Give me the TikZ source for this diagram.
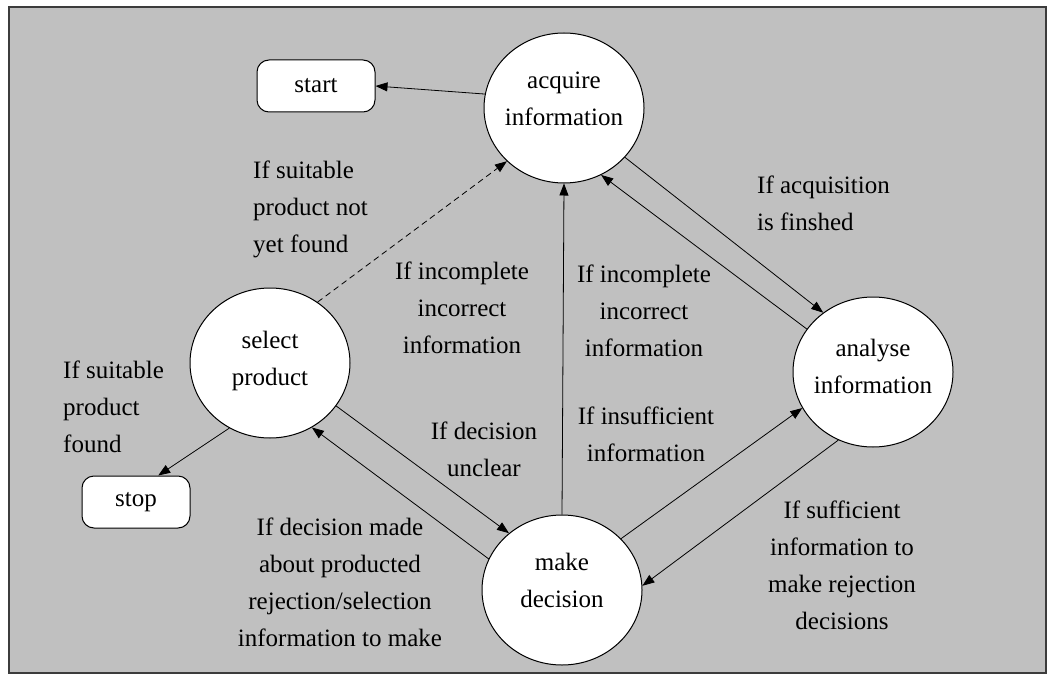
\documentclass[tikz,border=0pt]{standalone}
\usepackage{fontspec}
\setmainfont{Liberation Serif}
\usetikzlibrary{shapes.geometric,arrows.meta}
\definecolor{panelgray}{RGB}{192,192,192}
\definecolor{framegray}{RGB}{60,60,60}
\tikzset{
  state/.style={ellipse, draw, line width=1pt, fill=white,
    minimum width=160pt, minimum height=150pt, inner sep=0pt},
  endbox/.style={draw, line width=1pt, fill=white, rounded corners=12pt,
    minimum height=52pt},
  cond/.style={align=center, inner sep=0pt},
  flow/.style={-{Triangle[length=12pt,width=9pt]}, line width=0.8pt},
}
\begin{document}
\begin{tikzpicture}[x=1pt, y=-1pt, font=\fontsize{25}{37}\selectfont]
  \useasboundingbox (0,0) rectangle (1052,682);
  \draw[framegray, line width=1.5pt, fill=panelgray] (9,7) rectangle (1046,673);
  % states
  \node[state, label={[align=center, yshift=9pt]center:acquire\\information}] (acquire) at (564,108) {};
  \node[state, label={[align=center, yshift=2pt]center:select\\product}] (select) at (270,363) {};
  \node[state, label={[align=center, yshift=10pt]center:make\\decision}] (make) at (562,590) {};
  \node[state, label={[align=center, yshift=6pt]center:analyse\\information}] (analyse) at (873,372) {};
  \node[endbox, minimum width=118pt] (start) at (316,86) {start};
  \node[endbox, minimum width=108pt] (stop) at (136,502) {stop};
  % conditions
  \node[cond, anchor=west, align=left] (notfound) at (253,209) {If suitable\\product not\\yet found};
  \node[cond, anchor=west, align=left] (found) at (63,407) {If suitable\\product\\found};
  \node[cond] (incompleteleft) at (462,308) {If incomplete\\incorrect\\information};
  \node[cond] (incompleteright) at (644,311) {If incomplete\\incorrect\\information};
  \node[cond] (insufficient) at (646,434) {If insufficient\\information};
  \node[cond] (unclear) at (484,449) {If decision\\unclear};
  \node[cond, anchor=west, align=left] (finished) at (757,203) {If acquisition\\is finshed};
  \node[cond] (made) at (340,582) {If decision made\\about producted\\rejection/selection\\information to make};
  \node[cond] (sufficient) at (842,565) {If sufficient\\information to\\make rejection\\decisions};
  % transitions
  \draw[flow] (acquire.170) -- (start.east);
  \draw[flow, dash pattern=on 6pt off 4pt] (select.52) -- (acquire.223);
  \draw[flow] (select.238) -- (stop.50);
  \draw[flow] (make.90) -- (acquire.-90);
  \draw[flow] (acquire.-39) -- (analyse.130);
  \draw[flow] (analyse.147) -- (acquire.-61);
  \draw[flow] (select.-33) -- (make.133);
  \draw[flow] (make.157) -- (select.-57);
  \draw[flow] (make.41) -- (analyse.207);
  \draw[flow] (analyse.243) -- (make.3);
\end{tikzpicture}
\end{document}
